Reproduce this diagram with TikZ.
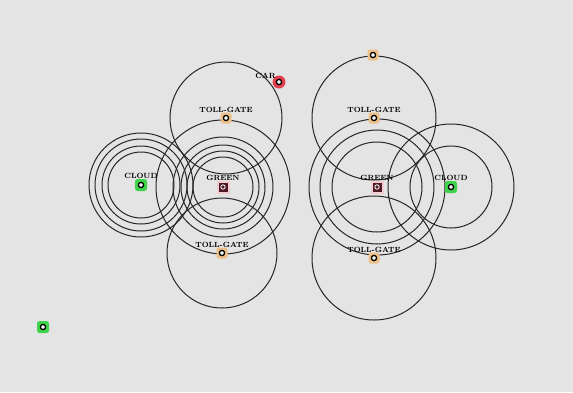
\documentclass[tikz,border=0pt]{standalone}
\usepackage{xcolor}
\usepackage{tikz}
\usetikzlibrary{positioning}
\definecolor{bgc}{HTML}{E4E4E4}
\definecolor{cloudc}{HTML}{3FD24A}
\definecolor{tollc}{HTML}{EDC089}
\definecolor{carc}{HTML}{E0404C}
\definecolor{greenc}{HTML}{4E1824}
\definecolor{glowc}{HTML}{F3CCD2}
\tikzset{
  vnode/.style={rectangle, rounded corners=2.5pt, minimum size=12pt, inner sep=0pt, fill=#1,
                path picture={\draw[line width=1.3pt, fill=white]
                  (path picture bounding box.center) circle (2.6pt);}},
  cloudn/.style={vnode=cloudc},
  tolln/.style={vnode=tollc, minimum size=11pt},
  carn/.style={vnode=carc, circle, minimum size=13pt},
  greenn/.style={rectangle, minimum size=11pt, inner sep=0pt, fill=greenc, draw=glowc, line width=2pt,
                path picture={\draw[line width=0.8pt, draw=white, fill=greenc]
                  (path picture bounding box.center) circle (2.2pt);}},
  lbl/.style={font=\fontsize{7.5}{8}\selectfont\bfseries, inner sep=0.5pt, label distance=-0.5pt},
  rng/.style={draw=black!85, line width=1pt},
}
\begin{document}
\begin{tikzpicture}[x=1pt, y=-1pt]
  \fill[bgc] (0,0) rectangle (573,392);
  \useasboundingbox (0,0) rectangle (573,392);
  % ranges, left group
  \coordinate (tgA) at (226,118);
  \coordinate (tgB) at (222,253);
  \coordinate (grL) at (223,187);
  \coordinate (clL) at (141,185);
  \draw[rng] (tgA) circle[radius=56];
  \draw[rng] (tgB) circle[radius=55];
  \foreach \r in {67,50,42,36,30}
    \draw[rng] (grL) circle[radius=\r];
  \foreach \r in {52,46,39,33}
    \draw[rng] (clL) circle[radius=\r];
  % ranges, right group
  \coordinate (tgC) at (374,118);
  \coordinate (tgD) at (374,258);
  \coordinate (grR) at (377,187);
  \coordinate (clR) at (451,187);
  \draw[rng] (tgC) circle[radius=62];
  \draw[rng] (tgD) circle[radius=62];
  \foreach \r in {68,57,45}
    \draw[rng] (grR) circle[radius=\r];
  \foreach \r in {63,41}
    \draw[rng] (clR) circle[radius=\r];
  % nodes
  \node[tolln, label={[lbl]above:TOLL-GATE}] (tollA) at (tgA) {};
  \node[tolln, label={[lbl]above:TOLL-GATE}] (tollB) at (tgB) {};
  \node[greenn, label={[lbl]above:GREEN}] (greenL) at (grL) {};
  \node[cloudn, label={[lbl]above:CLOUD}] (cloudL) at (clL) {};
  \node[carn, label={[lbl, label distance=-3pt]above left:CAR}] (car) at (279,82) {};
  \node[tolln, label={[lbl]above:TOLL-GATE}] (tollC) at (tgC) {};
  \node[tolln, label={[lbl]above:TOLL-GATE}] (tollD) at (tgD) {};
  \node[tolln] (tollE) at (373,55) {};
  \node[greenn, label={[lbl]above:GREEN}] (greenR) at (grR) {};
  \node[cloudn, label={[lbl]above:CLOUD}] (cloudR) at (clR) {};
  \node[cloudn] (cloudX) at (43,327) {};
\end{tikzpicture}
\end{document}
